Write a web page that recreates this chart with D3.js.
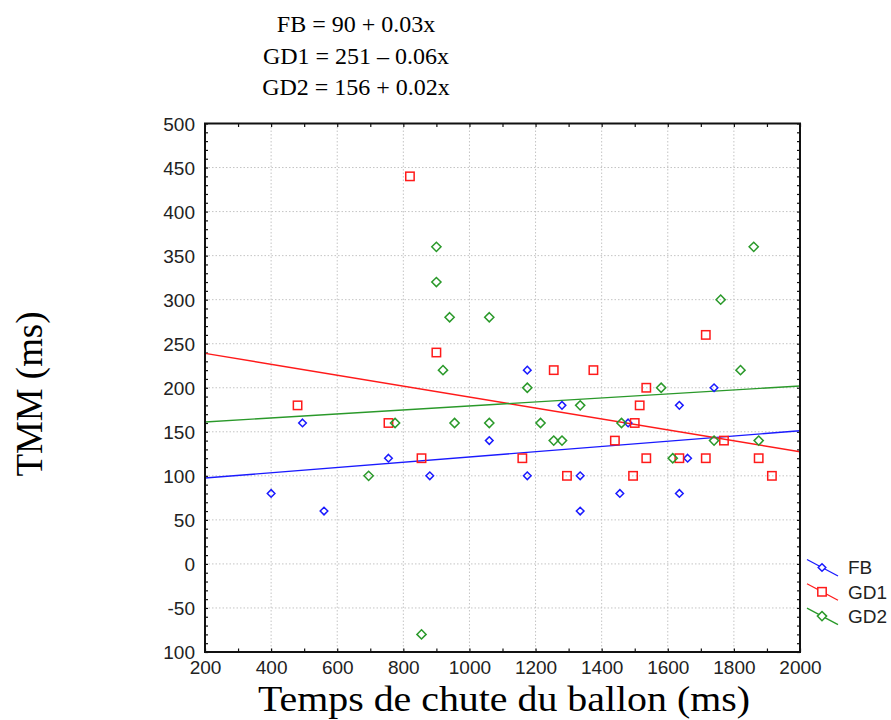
<!DOCTYPE html>
<html>
<head>
<meta charset="utf-8">
<script src="https://cdn.jsdelivr.net/npm/d3@7"></script>
<style>
  body { margin: 0; background: #fff; }
  svg { display: block; }
  .tick text { font-family: "Liberation Sans", Arial, sans-serif; font-size: 19px; fill: #222; }
  .grid line { stroke: #c4c4c4; stroke-dasharray: 1.5 2; }
</style>
</head>
<body>
<svg id="chart" width="891" height="720"></svg>
<script>
/* ===============================
   Data
================================ */

const equations = ["FB = 90 + 0.03x", "GD1 = 251 \u2013 0.06x", "GD2 = 156 + 0.02x"];

const seriesNames = ["FB", "GD1", "GD2"];

// [temps de chute, TMM]
const fbPoints = [
  [400, 80], [495, 160], [560, 60], [755, 120], [880, 100], [1060, 140],
  [1175, 220], [1175, 100], [1280, 180], [1335, 100], [1335, 60], [1455, 80],
  [1480, 160], [1635, 180], [1635, 80], [1660, 120], [1740, 200]
];

const gd1Points = [
  [480, 180], [755, 160], [820, 440], [855, 120], [900, 240], [1160, 120],
  [1255, 220], [1295, 100], [1375, 220], [1440, 140], [1495, 100], [1500, 160],
  [1515, 180], [1535, 200], [1535, 120], [1635, 120], [1715, 260], [1715, 120],
  [1770, 140], [1875, 120], [1915, 100]
];

const gd2Points = [
  [695, 100], [775, 160], [855, -80], [900, 360], [900, 320], [920, 220],
  [940, 280], [955, 160], [1060, 280], [1060, 160], [1175, 200], [1215, 160],
  [1255, 140], [1280, 140], [1335, 180], [1460, 160], [1580, 200], [1615, 120],
  [1740, 140], [1760, 300], [1820, 220], [1860, 360], [1875, 140]
];

// fitted lines as drawn: [intercept, slope]
const fits = [[91.6, 0.0298], [251.4, -0.062], [156.6, 0.0227]];

const xTicks = [200, 400, 600, 800, 1000, 1200, 1400, 1600, 1800, 2000];
const yTicks = [500, 450, 400, 350, 300, 250, 200, 150, 100, 50, 0, -50, -100];
const yTickLabels = ["500", "450", "400", "350", "300", "250", "200", "150", "100", "50", "0", "-50", "100"];

/* ===============================
   Setup
================================ */

const COLORS = ["#1a1aff", "#ff1a1a", "#2a992a"];
const SHAPES = ["diamondSmall", "square", "diamond"];

const plotLeft = 205, plotRight = 800, plotTop = 123.5, plotBottom = 652;

const svg = d3.select("#chart");

const x = d3.scaleLinear().domain([200, 2000]).range([plotLeft, plotRight]);
const y = d3.scaleLinear().domain([-100, 500]).range([plotBottom, plotTop]);

/* -------- equations -------- */

svg.selectAll(".eq")
  .data(equations)
  .enter().append("text")
  .attr("class", "eq")
  .attr("x", 356)
  .attr("y", (d, i) => 32 + i * 31.5)
  .attr("text-anchor", "middle")
  .style("font-family", "'Liberation Serif', 'Times New Roman', serif")
  .style("font-size", "24px")
  .style("fill", "#000")
  .text(d => d);

/* -------- grid -------- */

const grid = svg.append("g").attr("class", "grid");

grid.selectAll(".gx")
  .data(xTicks.slice(1, -1))
  .enter().append("line")
  .attr("x1", d => x(d)).attr("x2", d => x(d))
  .attr("y1", plotTop).attr("y2", plotBottom);

grid.selectAll(".gy")
  .data(yTicks.slice(1, -1))
  .enter().append("line")
  .attr("x1", plotLeft).attr("x2", plotRight)
  .attr("y1", d => y(d)).attr("y2", d => y(d));

/* -------- minor ticks (inward) -------- */

const xMinor = d3.range(200, 2001, 100);
const yMinor = d3.range(-100, 501, 10);

function tickAxis(axis, transform) {
  const g = svg.append("g").attr("transform", transform).call(axis);
  g.select(".domain").remove();
  g.selectAll(".tick line").attr("stroke", "#111").attr("stroke-width", 1.2);
  return g;
}

tickAxis(d3.axisBottom(x).tickValues(xMinor).tickSize(-3.5).tickFormat(""), `translate(0,${plotBottom})`);
tickAxis(d3.axisTop(x).tickValues(xMinor).tickSize(-3.5).tickFormat(""), `translate(0,${plotTop})`);
tickAxis(d3.axisLeft(y).tickValues(yMinor).tickSize(-3).tickFormat(""), `translate(${plotLeft},0)`);
tickAxis(d3.axisRight(y).tickValues(yMinor).tickSize(-3).tickFormat(""), `translate(${plotRight},0)`);

/* -------- tick labels -------- */

const xLab = svg.append("g")
  .attr("transform", `translate(0,${plotBottom})`)
  .call(d3.axisBottom(x).tickValues(xTicks).tickSize(0).tickPadding(9).tickFormat(d3.format("d")));
xLab.select(".domain").remove();

const yLab = svg.append("g")
  .attr("transform", `translate(${plotLeft},0)`)
  .call(d3.axisLeft(y).tickValues(yTicks).tickSize(0).tickPadding(10)
    .tickFormat((d, i) => yTickLabels[i]));
yLab.select(".domain").remove();
yLab.selectAll("text").attr("dy", "0.36em");

/* -------- fitted lines -------- */

const clipId = "plotClip";
svg.append("clipPath").attr("id", clipId)
  .append("rect").attr("x", plotLeft).attr("y", plotTop)
  .attr("width", plotRight - plotLeft).attr("height", plotBottom - plotTop);

const lineGen = d3.line().x(d => x(d[0])).y(d => y(d[1]));

svg.append("g").attr("clip-path", `url(#${clipId})`)
  .selectAll(".fit")
  .data(fits)
  .enter().append("path")
  .attr("class", "fit")
  .attr("fill", "none")
  .attr("stroke", (d, i) => COLORS[i])
  .attr("stroke-width", 1.4)
  .attr("d", d => lineGen(x.domain().map(v => [v, d[0] + d[1] * v])));

/* -------- markers -------- */

function marker(sel, shape) {
  if (shape === "square") {
    sel.append("rect").attr("x", -4.2).attr("y", -4.2).attr("width", 8.4).attr("height", 8.4);
  } else {
    const r = shape === "diamond" ? 4.6 : 3.8;
    sel.append("path").attr("d", `M0,${-r}L${r},0L0,${r}L${-r},0Z`);
  }
}

[fbPoints, gd1Points, gd2Points].forEach((pts, i) => {
  const grp = svg.append("g")
    .attr("fill", "none")
    .attr("stroke", COLORS[i])
    .attr("stroke-width", 1.5);
  grp.selectAll("g")
    .data(pts)
    .enter().append("g")
    .attr("transform", d => `translate(${x(d[0])},${y(d[1])})`)
    .each(function () { marker(d3.select(this), SHAPES[i]); });
});

/* -------- frame -------- */

svg.append("rect")
  .attr("x", plotLeft).attr("y", plotTop)
  .attr("width", plotRight - plotLeft).attr("height", plotBottom - plotTop)
  .attr("fill", "none")
  .attr("stroke", "#111")
  .attr("stroke-width", 2);

/* -------- legend -------- */

const legend = svg.append("g").attr("transform", "translate(822,567.5)");

const item = legend.selectAll(".item")
  .data(seriesNames)
  .enter().append("g")
  .attr("class", "item")
  .attr("transform", (d, i) => `translate(0,${i * 24.3})`);

item.append("line")
  .attr("x1", -15).attr("y1", -8).attr("x2", 16).attr("y2", 8.5)
  .attr("stroke", (d, i) => COLORS[i])
  .attr("stroke-width", 1.3);

item.each(function (d, i) {
  const m = d3.select(this).append("g")
    .attr("fill", "#fff")
    .attr("stroke", COLORS[i])
    .attr("stroke-width", 1.5);
  marker(m, SHAPES[i]);
});

item.append("text")
  .attr("x", 26)
  .attr("dy", "0.36em")
  .style("font-family", "'Liberation Sans', Arial, sans-serif")
  .style("font-size", "19px")
  .style("fill", "#222")
  .text(d => d);

/* -------- axis titles -------- */

svg.append("text")
  .attr("x", 504).attr("y", 711)
  .attr("text-anchor", "middle")
  .attr("textLength", 492)
  .attr("lengthAdjust", "spacingAndGlyphs")
  .style("font-family", "'Liberation Serif', 'Times New Roman', serif")
  .style("font-size", "36px")
  .text("Temps de chute du ballon (ms)");

svg.append("text")
  .attr("transform", "translate(42,394) rotate(-90)")
  .attr("text-anchor", "middle")
  .attr("textLength", 165)
  .attr("lengthAdjust", "spacingAndGlyphs")
  .style("font-family", "'Liberation Serif', 'Times New Roman', serif")
  .style("font-size", "38px")
  .text("TMM (ms)");
</script>
</body>
</html>
